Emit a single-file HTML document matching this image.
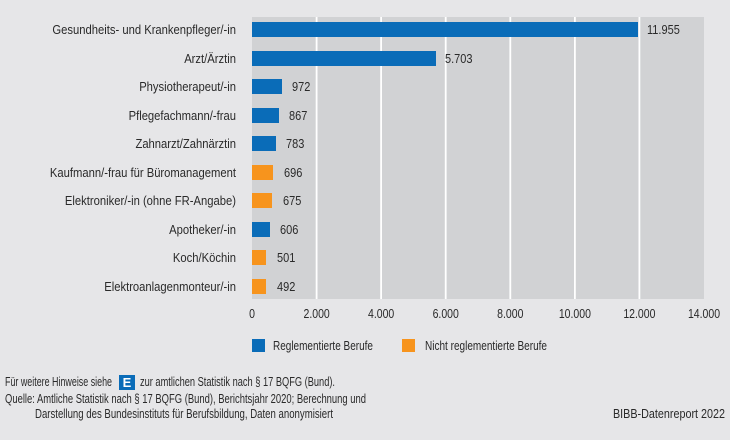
<!DOCTYPE html><html><head><meta charset="utf-8"><style>
body{margin:0;width:730px;height:435px;background:#e6e6e8;overflow:hidden}
svg text{font-family:"Liberation Sans Narrow","Liberation Sans",sans-serif;font-size:12.5px;fill:#2a2a2a}
.l{transform:scale(0.9,1)}
</style></head><body>
<svg width="730" height="435" xmlns="http://www.w3.org/2000/svg">
<rect x="252" y="17" width="452" height="282" fill="#d1d2d4"/>
<g stroke="#fff" stroke-width="1.8">
<line x1="316.6" y1="17" x2="316.6" y2="299"/><line x1="381.1" y1="17" x2="381.1" y2="299"/><line x1="445.7" y1="17" x2="445.7" y2="299"/><line x1="510.3" y1="17" x2="510.3" y2="299"/><line x1="574.9" y1="17" x2="574.9" y2="299"/><line x1="639.4" y1="17" x2="639.4" y2="299"/>
</g>
<g>
<rect x="252" y="22" width="386" height="15" fill="#0a6cb8"/>
<rect x="252" y="51" width="184" height="15" fill="#0a6cb8"/>
<rect x="252" y="79" width="30" height="15" fill="#0a6cb8"/>
<rect x="252" y="108" width="27" height="15" fill="#0a6cb8"/>
<rect x="252" y="136" width="24" height="15" fill="#0a6cb8"/>
<rect x="252" y="165" width="21" height="15" fill="#f7941d"/>
<rect x="252" y="193" width="20" height="15" fill="#f7941d"/>
<rect x="252" y="222" width="18" height="15" fill="#0a6cb8"/>
<rect x="252" y="250" width="14" height="15" fill="#f7941d"/>
<rect x="252" y="279" width="14" height="15" fill="#f7941d"/>
</g>
<g>
<text transform="translate(647,34) scale(0.88,1)">11.955</text>
<text transform="translate(445,63) scale(0.88,1)">5.703</text>
<text transform="translate(292,91) scale(0.88,1)">972</text>
<text transform="translate(289,120) scale(0.88,1)">867</text>
<text transform="translate(286,148) scale(0.88,1)">783</text>
<text transform="translate(284,177) scale(0.88,1)">696</text>
<text transform="translate(283,205) scale(0.88,1)">675</text>
<text transform="translate(280,234) scale(0.88,1)">606</text>
<text transform="translate(277,262) scale(0.88,1)">501</text>
<text transform="translate(277,291) scale(0.88,1)">492</text>
</g>
<g text-anchor="end">
<text transform="translate(236,34) scale(0.9,1)">Gesundheits- und Krankenpfleger/-in</text>
<text transform="translate(236,63) scale(0.9,1)">Arzt/Ärztin</text>
<text transform="translate(236,91) scale(0.9,1)">Physiotherapeut/-in</text>
<text transform="translate(236,120) scale(0.9,1)">Pflegefachmann/-frau</text>
<text transform="translate(236,148) scale(0.9,1)">Zahnarzt/Zahnärztin</text>
<text transform="translate(236,177) scale(0.9,1)">Kaufmann/-frau für Büromanagement</text>
<text transform="translate(236,205) scale(0.9,1)">Elektroniker/-in (ohne FR-Angabe)</text>
<text transform="translate(236,234) scale(0.9,1)">Apotheker/-in</text>
<text transform="translate(236,262) scale(0.9,1)">Koch/Köchin</text>
<text transform="translate(236,291) scale(0.9,1)">Elektroanlagenmonteur/-in</text>
</g>
<g text-anchor="middle">
<text transform="translate(252,318) scale(0.84,1)">0</text>
<text transform="translate(316.6,318) scale(0.84,1)">2.000</text>
<text transform="translate(381.1,318) scale(0.84,1)">4.000</text>
<text transform="translate(445.7,318) scale(0.84,1)">6.000</text>
<text transform="translate(510.3,318) scale(0.84,1)">8.000</text>
<text transform="translate(574.9,318) scale(0.84,1)">10.000</text>
<text transform="translate(639.4,318) scale(0.84,1)">12.000</text>
<text transform="translate(704,318) scale(0.84,1)">14.000</text>
</g>
<rect x="252" y="339" width="13" height="13" fill="#0a6cb8"/>
<text x="273" y="350" textLength="100" lengthAdjust="spacingAndGlyphs">Reglementierte Berufe</text>
<rect x="402" y="339" width="13" height="13" fill="#f7941d"/>
<text x="425" y="350" textLength="122" lengthAdjust="spacingAndGlyphs">Nicht reglementierte Berufe</text>
<text x="5" y="386" textLength="107" lengthAdjust="spacingAndGlyphs">Für weitere Hinweise siehe</text>
<rect x="119" y="375" width="16" height="15" fill="#0a6cb8"/>
<text x="127" y="387" text-anchor="middle" style="fill:#fff;font-weight:bold;font-size:13px">E</text>
<text x="140" y="386" textLength="195" lengthAdjust="spacingAndGlyphs">zur amtlichen Statistik nach § 17 BQFG (Bund).</text>
<text x="5" y="403" textLength="361" lengthAdjust="spacingAndGlyphs">Quelle: Amtliche Statistik nach § 17 BQFG (Bund), Berichtsjahr 2020; Berechnung und</text>
<text x="35" y="418" textLength="298" lengthAdjust="spacingAndGlyphs">Darstellung des Bundesinstituts für Berufsbildung, Daten anonymisiert</text>
<text x="725" y="418" text-anchor="end" textLength="112" lengthAdjust="spacingAndGlyphs">BIBB-Datenreport 2022</text>
</svg>
</body></html>
